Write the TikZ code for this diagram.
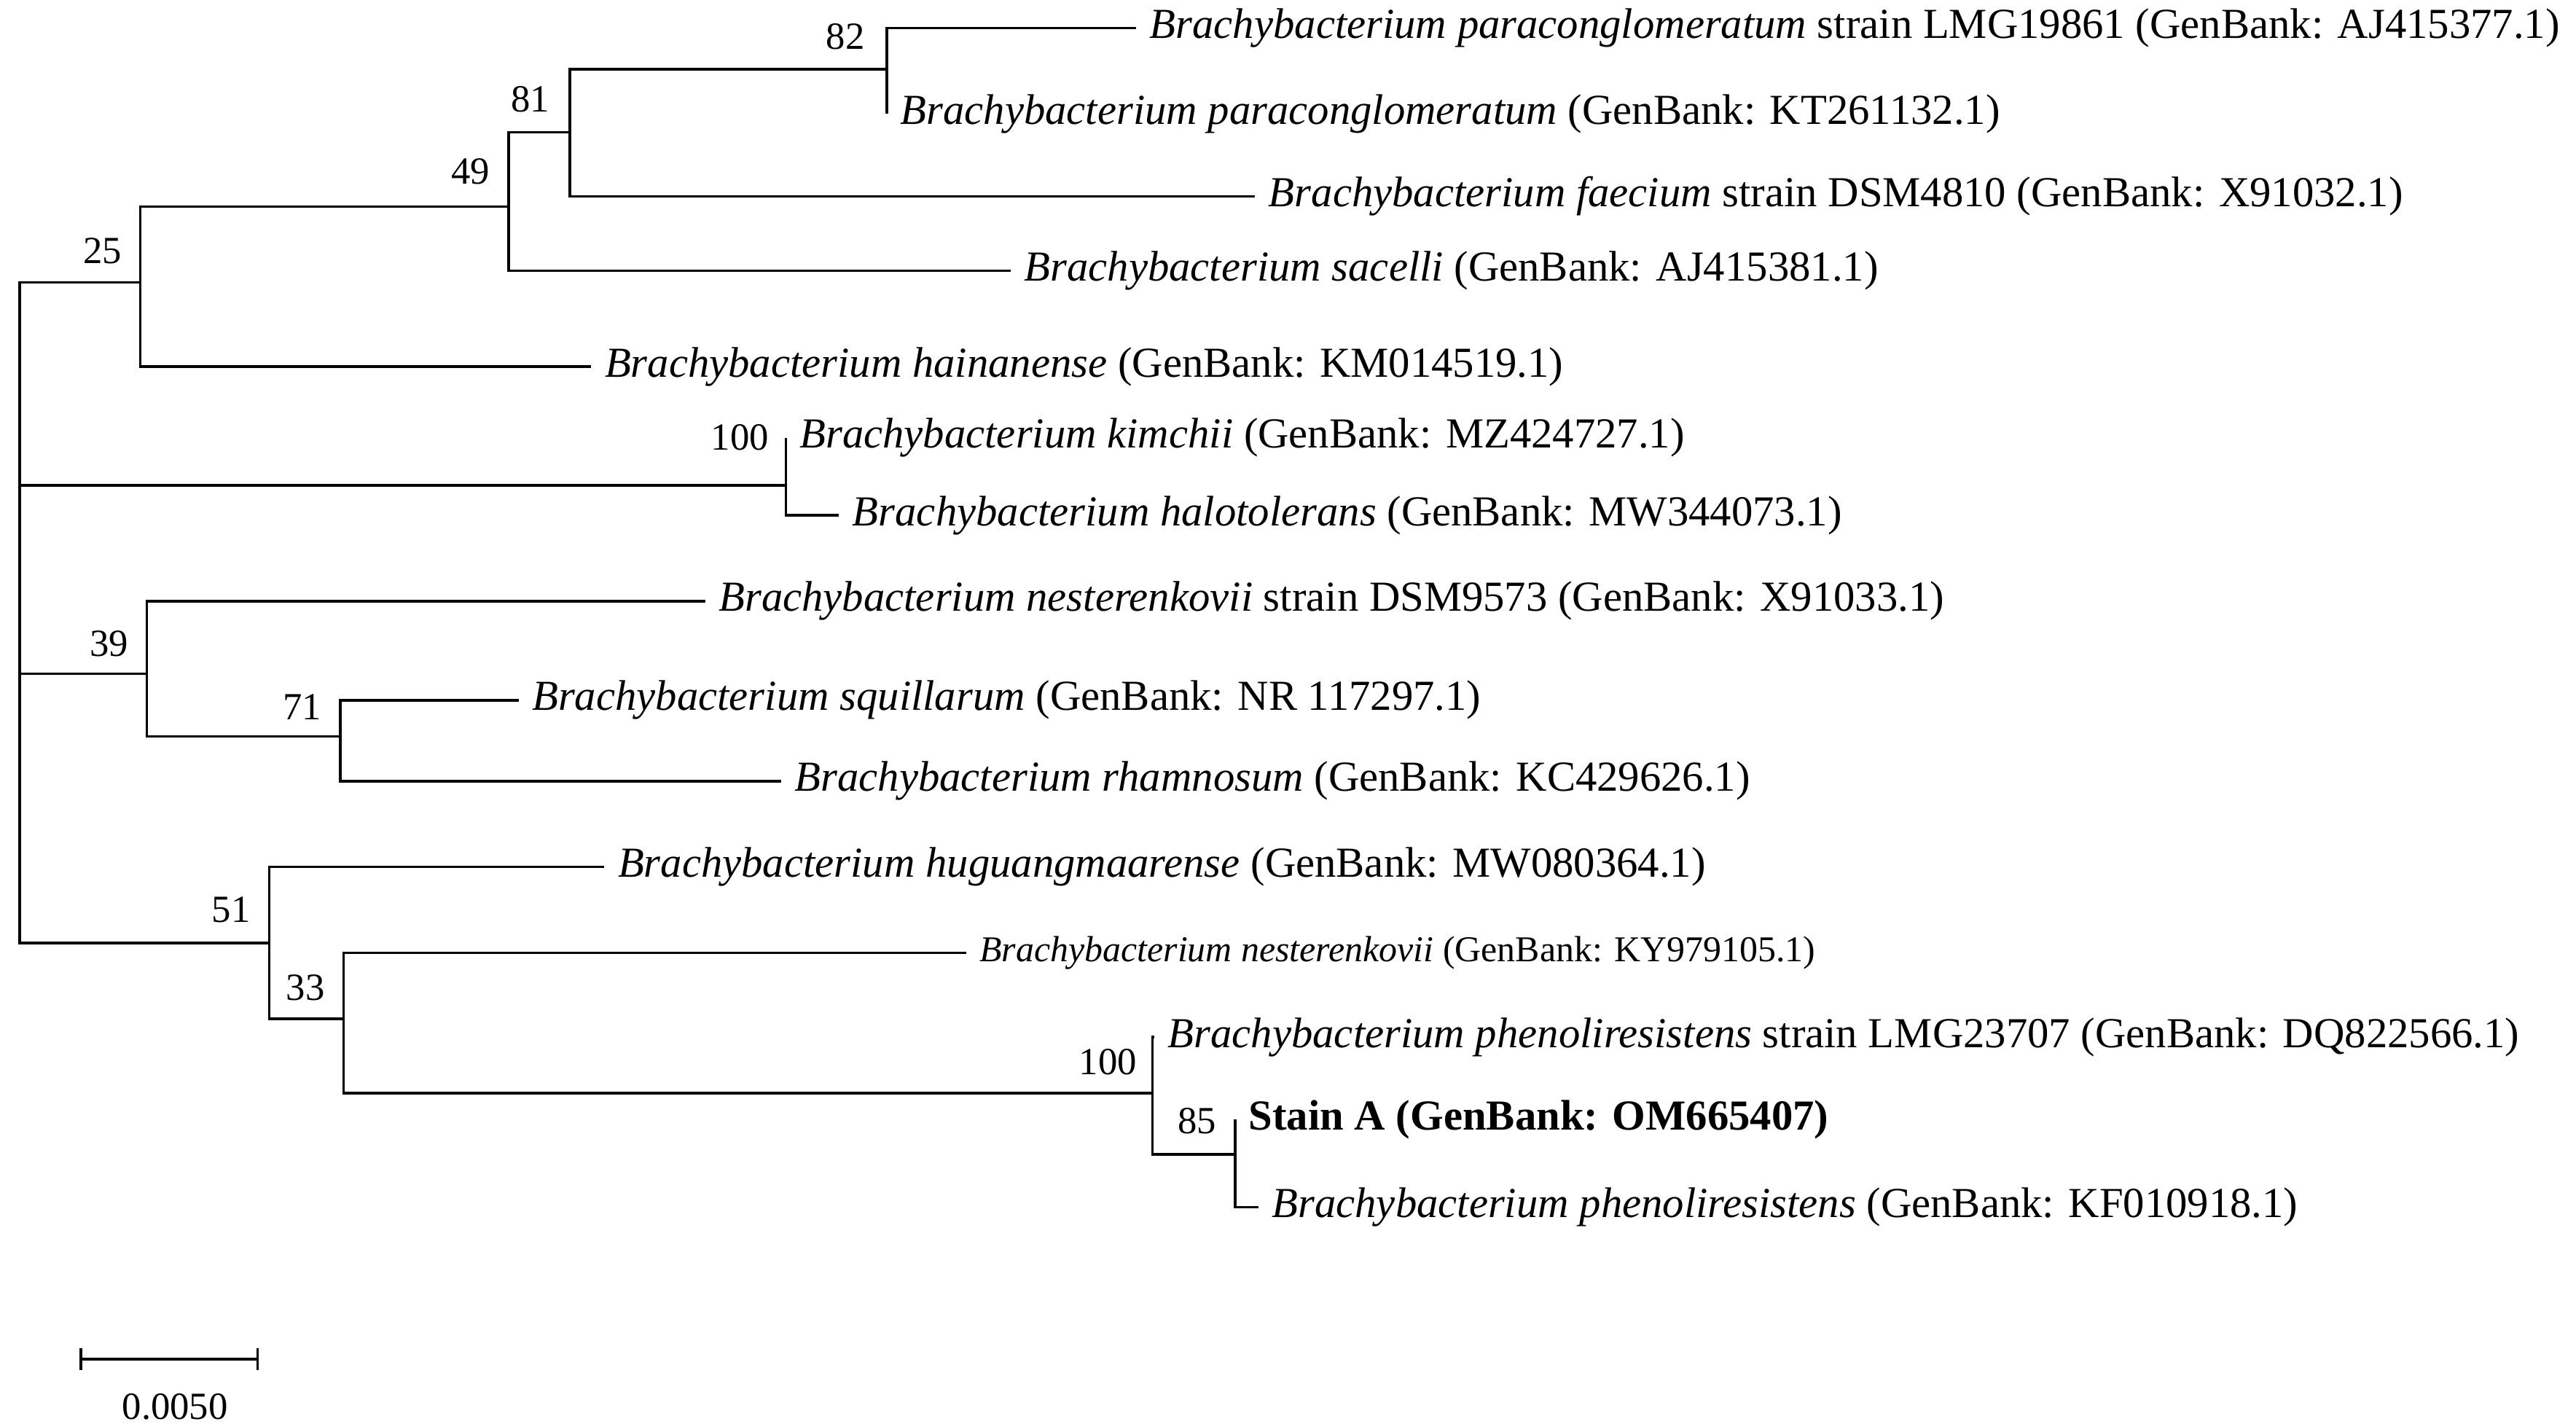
\documentclass[tikz,border=0pt]{standalone}
\usepackage{fontspec}
\setmainfont{Liberation Serif}
\begin{document}
\begin{tikzpicture}[x=0.02266cm,y=-0.02266cm,line width=1pt,
  leaf/.style={anchor=west,inner xsep=0.17cm,inner ysep=0pt,font=\fontsize{16.7}{20}\selectfont},
  sleaf/.style={leaf,font=\fontsize{14.2}{17}\selectfont},
  bs/.style={font=\fontsize{15}{18}\selectfont,inner sep=0pt}]
\useasboundingbox (0,0) rectangle (1560,862);
% internal nodes
\coordinate (root) at (12,294);
\coordinate (n25) at (85,171);
\coordinate (n49) at (308,125);
\coordinate (n81) at (345,80);
\coordinate (n82) at (537,42);
\coordinate (n100a) at (476,294);
\coordinate (n39) at (89,408);
\coordinate (n71) at (206,446);
\coordinate (n51) at (163,571);
\coordinate (n33) at (208,617);
\coordinate (n100b) at (698,662);
\coordinate (n85) at (748,699);
% leaves
\node[leaf] (l1) at (688,17) {\textit{Brachybacterium paraconglomeratum} strain LMG19861 (GenBank: AJ415377.1)};
\node[leaf] (l2) at (537,69) {\textit{Brachybacterium paraconglomeratum} (GenBank: KT261132.1)};
\node[leaf] (l3) at (760,119) {\textit{Brachybacterium faecium} strain DSM4810 (GenBank: X91032.1)};
\node[leaf] (l4) at (612,164) {\textit{Brachybacterium sacelli} (GenBank: AJ415381.1)};
\node[leaf] (l5) at (358,222) {\textit{Brachybacterium hainanense} (GenBank: KM014519.1)};
\node[leaf] (l6) at (476,265) {\textit{Brachybacterium kimchii} (GenBank: MZ424727.1)};
\node[leaf] (l7) at (508,312) {\textit{Brachybacterium halotolerans} (GenBank: MW344073.1)};
\node[leaf] (l8) at (427,364) {\textit{Brachybacterium nesterenkovii} strain DSM9573 (GenBank: X91033.1)};
\node[leaf] (l9) at (314,424) {\textit{Brachybacterium squillarum} (GenBank: NR 117297.1)};
\node[leaf] (l10) at (473,473) {\textit{Brachybacterium rhamnosum} (GenBank: KC429626.1)};
\node[leaf] (l11) at (366,525) {\textit{Brachybacterium huguangmaarense} (GenBank: MW080364.1)};
\node[sleaf] (l12) at (585,577) {\textit{Brachybacterium nesterenkovii} (GenBank: KY979105.1)};
\node[leaf] (l13) at (699,628) {\textit{Brachybacterium phenoliresistens} strain LMG23707 (GenBank: DQ822566.1)};
\node[leaf] (l14) at (748,678) {\textbf{Stain A (GenBank: OM665407)}};
\node[leaf] (l15) at (762,731) {\textit{Brachybacterium phenoliresistens} (GenBank: KF010918.1)};
% edges
\draw (root) |- (n25); \draw (root) |- (n100a); \draw (root) |- (n39); \draw (root) |- (n51);
\draw (n25) |- (n49); \draw (n25) |- (l5.west);
\draw (n49) |- (n81); \draw (n49) |- (l4.west);
\draw (n81) |- (n82); \draw (n81) |- (l3.west);
\draw (n82) |- (l1.west); \draw (n82) |- (l2.west);
\draw (n100a) |- (l6.west); \draw (n100a) |- (l7.west);
\draw (n39) |- (l8.west); \draw (n39) |- (n71);
\draw (n71) |- (l9.west); \draw (n71) |- (l10.west);
\draw (n51) |- (l11.west); \draw (n51) |- (n33);
\draw (n33) |- (l12.west); \draw (n33) |- (n100b);
\draw (n100b) |- (l13.west); \draw (n100b) |- (n85);
\draw (n85) |- (l14.west); \draw (n85) |- (l15.west);
% bootstrap labels
\node[bs] (b82) at (512,22) {82};
\node[bs] (b81) at (321,60) {81};
\node[bs] (b49) at (285,104) {49};
\node[bs] (b25) at (62,152) {25};
\node[bs] (b100a) at (448,265) {100};
\node[bs] (b39) at (66,390) {39};
\node[bs] (b71) at (183,428) {71};
\node[bs] (b51) at (140,551) {51};
\node[bs] (b33) at (185,598) {33};
\node[bs] (b100b) at (671,643) {100};
\node[bs] (b85) at (725,679) {85};
% scale bar
\coordinate (s1) at (49,823); \coordinate (s2) at (156,823);
\draw (s1) -- (s2);
\draw ([yshift=0.15cm]s1) -- ([yshift=-0.15cm]s1);
\draw ([yshift=0.15cm]s2) -- ([yshift=-0.15cm]s2);
\node[bs] (sl) at (106,852) {0.0050};
\end{tikzpicture}
\end{document}
